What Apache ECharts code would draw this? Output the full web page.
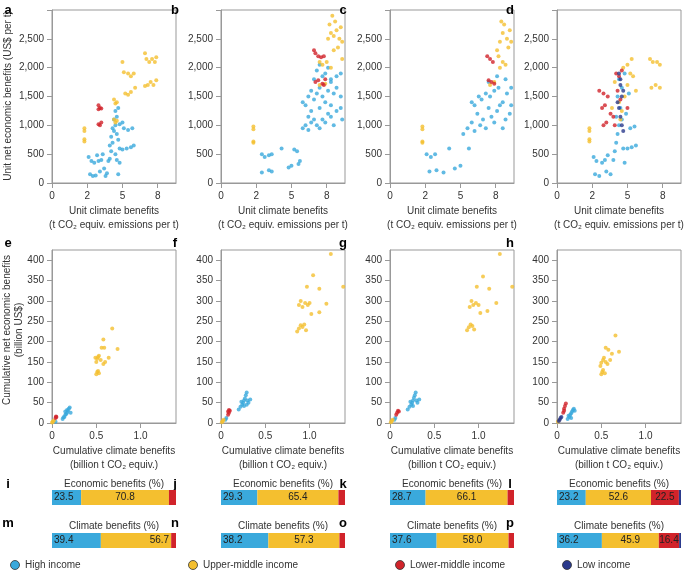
<!DOCTYPE html>
<html>
<head>
<meta charset="utf-8">
<script src="https://cdn.jsdelivr.net/npm/echarts@6/dist/echarts.min.js"></script>
<style>html,body{margin:0;padding:0;background:#fff}#main{width:685px;height:571px}</style>
</head>
<body>
<div id="main"></div>
<script>
// colours of the four income groups
var groups = ['High income', 'Upper-middle income', 'Lower-middle income', 'Low income'];
var colors = ['#3aa9dc', '#f4bf2f', '#d1232a', '#2b3a8c'];

// top row: unit climate benefits (axis units) vs unit net economic benefits
var aHigh = [[2.6,450],[2.8,380],[2.7,150],[2.9,120],[3.1,130],[3.0,350],[3.3,380],[3.5,400],[3.2,480],[3.6,500],[3.4,200],[3.7,250],[3.8,120],[3.9,170],[4.0,380],[4.1,420],[4.2,550],[4.1,650],[4.3,700],[4.2,800],[4.4,900],[4.3,950],[4.5,1000],[4.4,1100],[4.6,1150],[4.5,1250],[4.7,1300],[4.6,850],[4.7,750],[4.8,600],[4.5,500],[4.6,400],[4.8,350],[4.7,150],[5.0,580],[5.3,600],[5.6,620],[5.8,650],[5.1,950],[5.4,920],[5.7,950],[5.0,1050],[4.8,1020]];
var aUpper = [[2.3,950],[2.3,900],[2.3,720],[2.3,760],[4.4,1450],[4.6,1400],[4.5,1380],[4.4,1100],[4.6,1080],[4.5,1050],[5.0,2100],[5.1,1920],[5.4,1900],[5.8,1900],[5.6,1850],[5.2,1550],[5.4,1530],[5.6,1580],[5.9,1650],[6.6,2250],[6.7,2150],[6.9,2100],[7.1,2150],[7.3,2100],[7.4,2180],[6.6,1680],[6.8,1700],[7.0,1750],[7.2,1700],[7.4,1780]];
var aLower = [[3.3,1350],[3.4,1300],[3.5,1290],[3.3,1280],[3.3,1020],[3.4,1000],[3.5,1050]];
var aLow = [];

var bHigh = [[2.9,500],[3.1,450],[3.4,480],[3.6,500],[2.9,180],[3.4,220],[3.6,200],[4.3,600],[4.8,270],[5.0,300],[5.2,580],[5.4,550],[5.5,330],[5.6,380],[5.8,950],[6.0,1000],[6.2,920],[6.4,1050],[6.6,1100],[6.8,1000],[7.0,950],[7.2,1100],[7.4,1050],[7.6,1200],[7.8,1150],[8.0,1000],[8.2,1250],[8.5,1300],[5.8,1400],[6.0,1350],[6.2,1500],[6.4,1600],[6.6,1450],[6.8,1550],[7.0,1650],[7.2,1500],[7.4,1400],[7.6,1600],[7.8,1750],[8.0,1550],[8.2,1650],[8.5,1500],[6.6,1800],[6.8,1950],[7.0,2050],[7.2,1850],[7.4,1900],[7.6,2000],[7.8,1800],[8.2,1850],[8.5,1900],[6.4,1250],[7.0,1300],[7.8,1350],[8.6,1100],[6.2,1150]];
var bUpper = [[2.3,980],[2.3,930],[2.3,720],[2.3,700],[7.0,2100],[7.2,2050],[7.5,2100],[7.8,2000],[7.0,1700],[7.4,1720],[7.6,2500],[7.8,2600],[8.0,2550],[8.2,2650],[8.4,2500],[8.6,2450],[7.7,2750],[7.9,2900],[8.1,2800],[8.3,2350],[8.5,2700],[8.0,2300],[8.6,2150]];
var bLower = [[6.6,2300],[6.7,2250],[6.9,2200],[7.1,2180],[7.3,2200],[6.7,1750],[6.9,1780],[7.2,1720],[7.4,1800],[7.3,1700]];
var bLow = [];

var cHigh = [[2.6,500],[2.9,450],[3.2,500],[2.8,200],[3.3,220],[3.8,180],[4.2,600],[4.6,250],[5.0,300],[5.2,850],[5.5,950],[5.8,1050],[6.0,900],[6.2,1200],[6.4,1000],[6.6,1100],[6.8,950],[7.0,1300],[7.2,1150],[7.4,1050],[7.6,1250],[7.8,1350],[8.0,950],[8.2,1100],[8.5,1200],[5.8,1400],[6.0,1350],[6.3,1500],[6.5,1450],[6.8,1550],[7.1,1500],[7.4,1600],[7.7,1650],[8.0,1400],[8.3,1550],[8.6,1650],[7.0,1750],[7.6,1850],[8.2,1800],[8.6,1350],[5.6,600]];
var cUpper = [[2.3,980],[2.3,930],[2.3,720],[2.3,700],[7.1,1700],[7.4,1750],[7.8,2000],[8.0,2100],[8.2,2050],[7.6,2300],[7.8,2450],[8.0,2600],[8.3,2500],[8.5,2650],[7.9,2800],[8.1,2750],[8.4,2350],[8.6,2450],[7.7,2200]];
var cLower = [[6.9,2200],[7.1,2150],[7.3,2100],[7.0,1780],[7.2,1750],[7.4,1720]];
var cLow = [];

var dHigh = [[2.6,450],[2.8,380],[2.7,150],[3.0,120],[3.2,350],[3.4,400],[3.6,480],[3.5,200],[3.8,150],[4.0,400],[4.1,550],[4.2,700],[4.3,850],[4.4,1000],[4.2,1150],[4.5,1300],[4.3,1500],[4.6,1650],[4.4,1800],[4.7,600],[4.8,350],[5.0,600],[5.3,620],[5.6,650],[5.2,950],[5.5,980],[4.9,1200],[5.1,1550],[4.8,1900],[4.6,1100]];
var dUpper = [[2.3,950],[2.3,900],[2.3,720],[2.3,760],[4.4,1400],[4.6,1250],[4.8,1500],[5.0,1700],[5.2,1900],[5.4,1850],[5.0,2050],[5.3,2150],[4.7,2000],[4.5,1100],[5.6,1600],[6.6,2150],[6.8,2100],[7.1,2100],[7.3,2050],[6.7,1650],[7.0,1700],[7.3,1650],[3.9,1300],[4.1,1750]];
var dLower = [[3.0,1600],[3.3,1550],[3.6,1500],[3.4,1350],[3.2,1300],[3.8,1200],[4.0,1150],[3.5,1050],[3.3,1000],[4.2,1900],[4.4,1850],[4.6,1950],[4.3,1600],[4.5,1450],[4.1,1000],[5.0,1300]];
var dLow = [[4.4,1900],[4.5,1700],[4.6,1500],[4.4,1300],[4.5,1150],[4.6,1000],[4.7,900],[4.5,1800],[4.7,1600],[4.3,1400]];

// bottom row: cumulative climate benefits vs cumulative net economic benefits
var eHigh = [[0.12,10],[0.14,15],[0.15,20],[0.16,22],[0.17,25],[0.18,30],[0.19,35],[0.2,38],[0.13,14],[0.15,28],[0.17,32],[0.21,25],[0.04,3]];
var eUpper = [[0.5,120],[0.51,125],[0.52,128],[0.53,122],[0.5,150],[0.51,158],[0.52,162],[0.53,165],[0.55,155],[0.49,160],[0.58,145],[0.6,150],[0.56,185],[0.59,185],[0.58,205],[0.64,160],[0.68,232],[0.74,182],[0.01,3],[0.02,6],[0.0,1]];
var eLower = [[0.04,12],[0.045,16],[0.05,15]];
var eLow = [];

var fHigh = [[0.2,33],[0.22,40],[0.24,45],[0.25,50],[0.26,55],[0.27,60],[0.28,68],[0.29,75],[0.3,55],[0.31,50],[0.33,58],[0.23,52],[0.26,42],[0.29,45],[0.05,8],[0.06,12]];
var fUpper = [[0.86,225],[0.88,232],[0.9,240],[0.92,236],[0.94,242],[0.96,228],[0.88,290],[0.9,300],[0.92,285],[0.95,295],[0.98,290],[1.0,295],[1.02,268],[0.97,335],[1.04,363],[1.11,330],[1.11,272],[1.19,293],[1.24,415],[1.38,335],[0.01,2],[0.02,5],[0.03,8]];
var fLower = [[0.08,20],[0.09,25],[0.1,30],[0.09,32],[0.08,28]];
var fLow = [];

var gHigh = [[0.2,33],[0.22,40],[0.24,45],[0.25,50],[0.26,55],[0.27,62],[0.28,68],[0.29,75],[0.3,55],[0.31,50],[0.33,58],[0.23,52],[0.26,42],[0.05,8],[0.06,12]];
var gUpper = [[0.87,228],[0.89,235],[0.91,242],[0.93,238],[0.95,230],[0.9,285],[0.92,300],[0.94,290],[0.97,295],[1.0,290],[1.02,270],[0.98,335],[1.05,360],[1.12,330],[1.1,275],[1.2,295],[1.24,415],[1.38,335],[0.01,2],[0.02,5],[0.03,8]];
var gLower = [[0.07,20],[0.08,25],[0.09,30],[0.1,28]];
var gLow = [];

var hHigh = [[0.12,10],[0.14,15],[0.15,20],[0.16,24],[0.17,28],[0.18,32],[0.19,35],[0.2,30],[0.13,18],[0.16,12]];
var hUpper = [[0.5,120],[0.51,125],[0.52,130],[0.54,122],[0.5,148],[0.52,155],[0.53,160],[0.55,150],[0.57,145],[0.49,140],[0.6,155],[0.55,185],[0.58,180],[0.62,170],[0.66,215],[0.7,175],[0.01,3],[0.02,6]];
var hLower = [[0.07,25],[0.08,35],[0.09,42],[0.1,48],[0.08,30]];
var hLow = [[0.02,5],[0.03,8],[0.04,12],[0.05,15]];

// stacked share bars (high, upper-middle, lower-middle, low)
var econShares = [[23.5,70.8,5.7,0],[29.3,65.4,5.3,0],[28.7,66.1,5.2,0],[23.2,52.6,22.5,1.7]];
var climShares = [[39.4,56.7,3.9,0],[38.2,57.3,4.5,0],[37.6,58.0,4.4,0],[36.2,45.9,16.4,1.5]];
var shareLabelShown = [[true,true,false,false],[true,true,false,false],[true,true,false,false],[true,true,true,false]];

var topSets = [[aHigh,aUpper,aLower,aLow],[bHigh,bUpper,bLower,bLow],[cHigh,cUpper,cLower,cLow],[dHigh,dUpper,dLower,dLow]];
var botSets = [[eHigh,eUpper,eLower,eLow],[fHigh,fUpper,fLower,fLow],[gHigh,gUpper,gLower,gLow],[hHigh,hUpper,hLower,hLow]];
var lefts = [52, 221, 390, 557];
var W = 124;

var myChart = echarts.init(document.getElementById('main'));
var grids = [], xAxes = [], yAxes = [], series = [], graphics = [];
var font = 'Liberation Sans, Arial, sans-serif';
var labelStyle = {fontSize: 10, color: '#333', fontFamily: font};

function addScatter(gi, sets) {
    for (var s = 0; s < 4; s++) {
        if (!sets[s].length) continue;
        series.push({
            type: 'scatter', xAxisIndex: gi, yAxisIndex: gi, data: sets[s],
            symbolSize: 4, silent: true,
            itemStyle: {color: colors[s], opacity: 0.8}
        });
    }
}

function text(x, y, str, extra) {
    var g = {type: 'text', x: x, y: y, style: {text: str, font: '10px ' + font, fill: '#333', align: 'center', verticalAlign: 'middle'}};
    return Object.assign(g, extra || {});
}

var topTicks = {0: '0', 2.5: '2', 5: '5', 7.5: '8'};
for (var p = 0; p < 4; p++) {
    // top row
    var gi = grids.length;
    grids.push({left: lefts[p], top: 10, width: W, height: 173, show: true, borderColor: '#999', borderWidth: 1});
    xAxes.push({gridIndex: gi, type: 'value', min: 0, max: 8.8, interval: 2.5, splitLine: {show: false},
        axisLine: {lineStyle: {color: '#999'}}, axisTick: {lineStyle: {color: '#999'}},
        axisLabel: Object.assign({formatter: function (v) { return topTicks[v] !== undefined ? topTicks[v] : ''; }, showMaxLabel: false}, labelStyle)});
    yAxes.push({gridIndex: gi, type: 'value', min: 0, max: 3000, interval: 500, splitLine: {show: false},
        axisLine: {lineStyle: {color: '#999'}}, axisTick: {show: true, lineStyle: {color: '#999'}},
        axisLabel: Object.assign({formatter: function (v) { return v >= 3000 ? '' : v.toLocaleString('en-US'); }}, labelStyle)});
    addScatter(gi, topSets[p]);

    // bottom row
    gi = grids.length;
    grids.push({left: lefts[p], top: 250, width: W, height: 173, show: true, borderColor: '#999', borderWidth: 1});
    xAxes.push({gridIndex: gi, type: 'value', min: 0, max: 1.4, interval: 0.5, splitLine: {show: false},
        axisLine: {lineStyle: {color: '#999'}}, axisTick: {lineStyle: {color: '#999'}},
        axisLabel: Object.assign({formatter: function (v) { return v === 0 ? '0' : v.toFixed(1); }, showMaxLabel: false}, labelStyle)});
    yAxes.push({gridIndex: gi, type: 'value', min: 0, max: 425, interval: 50, splitLine: {show: false},
        axisLine: {lineStyle: {color: '#999'}}, axisTick: {show: true, lineStyle: {color: '#999'}},
        axisLabel: Object.assign({showMaxLabel: false}, labelStyle)});
    addScatter(gi, botSets[p]);

    // share bars
    [[econShares, 490, 'Economic benefits (%)', 484], [climShares, 533, 'Climate benefits (%)', 526]].forEach(function (row, r) {
        var bi = grids.length;
        grids.push({left: lefts[p], top: row[1], width: W, height: 15});
        xAxes.push({gridIndex: bi, type: 'value', min: 0, max: 100, show: false});
        yAxes.push({gridIndex: bi, type: 'category', data: ['x'], show: false});
        for (var s = 0; s < 4; s++) {
            var v = row[0][p][s];
            if (!v) continue;
            var pos = (r === 1 && p === 0 && s === 1) ? 'insideRight' : (s === 0 ? 'insideLeft' : 'inside');
            series.push({
                type: 'bar', stack: 'st' + bi, xAxisIndex: bi, yAxisIndex: bi, data: [v], barWidth: 15, silent: true,
                itemStyle: {color: colors[s]},
                label: {show: shareLabelShown[p][s], position: pos, distance: 2, formatter: v.toFixed(1), fontSize: 10, color: '#222', fontFamily: font}
            });
        }
        graphics.push(text(lefts[p] + W / 2, row[3], row[2]));
    });
}

// panel letters
var letters = [['a','b','c','d'],['e','f','g','h'],['i','j','k','l'],['m','n','o','p']];
var letterYs = [10, 243, 484, 523];
var letterXs = [8, 175, 343, 510];
for (var r = 0; r < 4; r++) {
    for (var c = 0; c < 4; c++) {
        graphics.push(text(letterXs[c], letterYs[r], letters[r][c], {style: {text: letters[r][c], font: 'bold 13px ' + font, fill: '#000', align: 'center', verticalAlign: 'middle'}}));
    }
}

// axis titles
for (var p = 0; p < 4; p++) {
    var cx = lefts[p] + W / 2;
    graphics.push(text(cx, 211, 'Unit climate benefits'));
    graphics.push(text(cx, 225, '(t CO₂ equiv. emissions per t)'));
    graphics.push(text(cx, 451, 'Cumulative climate benefits'));
    graphics.push(text(cx, 465, '(billion t CO₂ equiv.)'));
}
graphics.push(text(8, 96, 'Unit net economic benefits (US$ per t)', {rotation: Math.PI / 2}));
graphics.push(text(7, 330, 'Cumulative net economic benefits', {rotation: Math.PI / 2}));
graphics.push(text(19, 330, '(billion US$)', {rotation: Math.PI / 2}));

// legend
var legendX = [10, 188, 395, 562];
for (var s = 0; s < 4; s++) {
    graphics.push({type: 'circle', shape: {cx: legendX[s] + 5, cy: 565, r: 4.5}, style: {fill: colors[s], stroke: '#333', lineWidth: 0.8}});
    graphics.push({type: 'text', x: legendX[s] + 15, y: 565, style: {text: groups[s], font: '10px ' + font, fill: '#333', verticalAlign: 'middle'}});
}

myChart.setOption({
    animation: false,
    grid: grids, xAxis: xAxes, yAxis: yAxes, series: series, graphic: graphics
});
</script>
</body>
</html>
